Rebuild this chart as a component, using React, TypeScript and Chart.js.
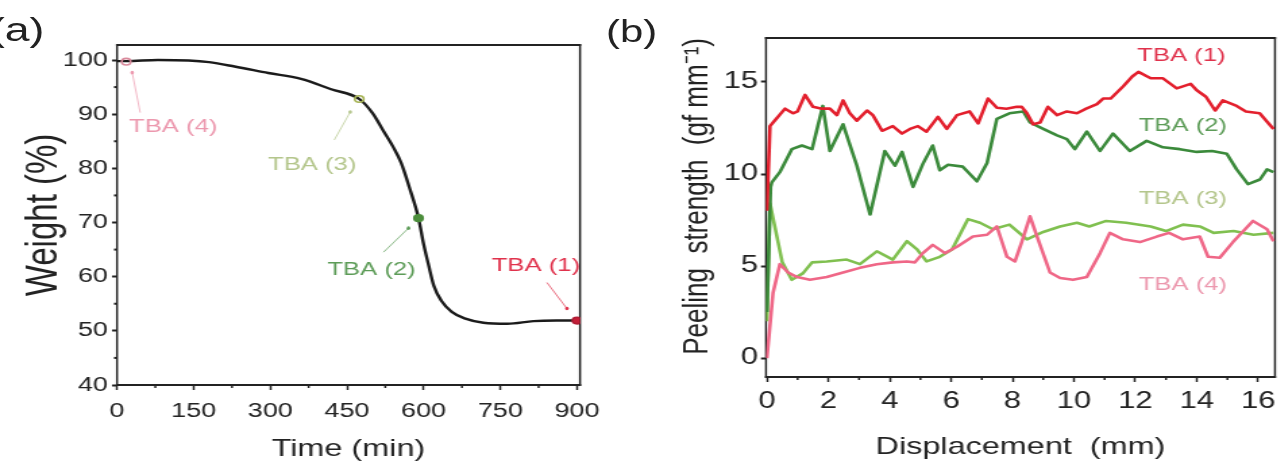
import React, { useEffect, useRef } from 'react';
import { Chart, registerables } from 'chart.js';

Chart.register(...registerables);

// The whole figure is drawn narrow and stretched sideways by SX.
const SX = 1.35;
const PAGE_W = 1285;
const PAGE_H = 469;
const FONT = "'Liberation Sans', Arial, Helvetica, sans-serif";
const INK = '#232323';

// ---------- (a) weight loss against time ----------
const TIME_MIN = [0, 18, 80, 140, 180, 230, 296, 360, 419, 474, 500, 522, 540, 556, 572, 590, 600, 610, 620, 635, 655, 680, 717, 764, 815, 860, 900];
const WEIGHT_PCT = [99.8, 99.8, 100, 99.9, 99.6, 98.8, 97.6, 96.5, 94.6, 92.8, 90.2, 86.8, 84.0, 81.0, 76.5, 70.8, 66.0, 62.0, 58.3, 55.5, 53.5, 52.3, 51.5, 51.3, 51.8, 51.9, 51.9];
const X_TICKS_A = [0, 150, 300, 450, 600, 750, 900];
const X_MINOR_A = [75, 225, 375, 525, 675, 825];
const Y_TICKS_A = [40, 50, 60, 70, 80, 90, 100];
const Y_MINOR_A = [45, 55, 65, 75, 85, 95];

// sampling points on the curve
const SAMPLE_NAMES = ['TBA (1)', 'TBA (2)', 'TBA (3)', 'TBA (4)'];
const SAMPLE_TIME = [900, 590, 474, 18];
const SAMPLE_WEIGHT = [51.9, 70.8, 92.8, 99.7];

// ---------- (b) peel force against displacement ----------
const TBA1: [number, number][] = [
  [0, 8.0], [0.1, 12.6], [0.2, 12.8], [0.59, 13.55], [0.85, 13.3], [1.0, 13.4], [1.24, 14.3], [1.5, 13.65],
  [1.79, 13.55], [2.05, 13.55], [2.28, 13.2], [2.48, 14.0], [2.7, 13.3], [2.93, 12.9], [3.26, 13.45], [3.45, 13.2],
  [3.75, 12.35], [4.1, 12.6], [4.4, 12.2], [4.66, 12.45], [4.92, 12.6], [5.2, 12.3], [5.57, 13.1], [5.86, 12.45],
  [6.19, 13.2], [6.6, 13.4], [6.88, 12.75], [7.2, 14.1], [7.49, 13.6], [7.8, 13.55], [8.14, 13.65], [8.3, 13.65],
  [8.47, 13.3], [8.67, 12.7], [8.9, 12.8], [9.15, 13.65], [9.45, 13.2], [9.77, 13.4], [10.1, 13.3], [10.4, 13.55],
  [10.75, 13.8], [10.95, 14.1], [11.2, 14.1], [11.6, 14.75], [11.9, 15.3], [12.1, 15.55], [12.5, 15.2], [12.9, 15.2],
  [13.35, 14.65], [13.8, 14.9], [14.0, 14.55], [14.3, 14.2], [14.6, 13.45], [14.85, 14.0], [15.3, 13.7], [15.6, 13.4],
  [16.05, 13.3], [16.5, 12.45],
];
const TBA2: [number, number][] = [
  [0, 2.5], [0.12, 9.3], [0.16, 9.55], [0.42, 10.1], [0.81, 11.35], [1.14, 11.55], [1.47, 11.35], [1.82, 13.7],
  [2.05, 11.25], [2.48, 12.7], [2.93, 10.45], [3.36, 7.8], [3.84, 11.25], [4.17, 10.45], [4.4, 11.2], [4.76, 9.3],
  [5.08, 10.55], [5.4, 11.55], [5.63, 10.2], [5.9, 10.5], [6.38, 10.4], [6.84, 9.6], [7.17, 10.6], [7.49, 13.0],
  [7.9, 13.3], [8.35, 13.4], [8.57, 12.8], [9.0, 12.45], [9.45, 12.1], [9.77, 11.9], [10.03, 11.35], [10.42, 12.3],
  [10.85, 11.25], [11.27, 12.2], [11.82, 11.25], [12.37, 11.8], [12.9, 11.45], [13.45, 11.35], [14.0, 11.2],
  [14.5, 11.25], [14.98, 11.1], [15.3, 10.25], [15.67, 9.45], [16.06, 9.7], [16.29, 10.25], [16.5, 10.1],
];
const TBA3: [number, number][] = [
  [0, 2.0], [0.1, 8.4], [0.5, 5.2], [0.81, 4.25], [1.17, 4.6], [1.47, 5.2], [1.95, 5.25], [2.6, 5.35], [3.03, 5.1],
  [3.58, 5.8], [4.1, 5.35], [4.56, 6.35], [4.89, 5.9], [5.2, 5.25], [5.63, 5.5], [6.03, 5.9], [6.55, 7.55],
  [6.94, 7.35], [7.36, 7.0], [7.9, 7.25], [8.47, 6.45], [9.0, 6.85], [9.55, 7.15], [10.1, 7.35], [10.5, 7.15],
  [11.05, 7.45], [11.7, 7.35], [12.5, 7.15], [13.0, 6.9], [13.55, 7.25], [14.1, 7.15], [14.55, 6.8], [15.2, 6.9],
  [15.85, 6.7], [16.5, 6.8],
];
const TBA4: [number, number][] = [
  [0, 0], [0.2, 3.55], [0.42, 5.1], [0.69, 4.65], [0.98, 4.4], [1.4, 4.25], [1.95, 4.4], [2.48, 4.65], [3.03, 4.9],
  [3.58, 5.1], [4.1, 5.2], [4.56, 5.25], [4.82, 5.2], [5.08, 5.7], [5.4, 6.15], [5.8, 5.7], [6.19, 6.05],
  [6.71, 6.6], [7.17, 6.7], [7.49, 7.15], [7.82, 5.5], [8.08, 5.25], [8.3, 6.3], [8.57, 7.7], [8.8, 6.6],
  [9.22, 4.65], [9.55, 4.35], [9.97, 4.25], [10.42, 4.4], [10.85, 5.7], [11.17, 6.8], [11.6, 6.45], [12.15, 6.3],
  [12.7, 6.6], [13.1, 6.8], [13.55, 6.45], [14.1, 6.6], [14.37, 5.5], [14.75, 5.45], [15.18, 6.3], [15.83, 7.45],
  [16.29, 7.0], [16.5, 6.35],
];
const X_TICKS_B = [0, 2, 4, 6, 8, 10, 12, 14, 16];
const X_MINOR_B = [1, 3, 5, 7, 9, 11, 13, 15];
const Y_TICKS_B = [0, 5, 10, 15];
const LABEL_B_X = [13.5, 13.55, 13.55, 13.55];
const LABEL_B_Y = [16.4, 12.6, 8.63, 4.0];

// ---------- colours ----------
const LINE_COLORS = ['#e31f2d', '#3b8a3b', '#80c050', '#ef6787'];
const TAG_COLORS = ['#e0324c', '#5d9c58', '#b4c68c', '#ec98ae'];
const MARK_FILL = ['#c41f38', '#4c8e3c', 'rgba(255,255,255,0)', 'rgba(255,255,255,0)'];
const MARK_EDGE = ['#b01c34', '#4c8e3c', '#a6b354', '#d98a9c'];

// ---------- layout (page pixels) ----------
const SPLIT = 612;
const AREA_A = { left: 117, right: 580, top: 45, bottom: 385 };
const AREA_B = { left: 766, right: 1275, top: 38, bottom: 377 };
const TOTAL_W = Math.round(PAGE_W / SX);
const A_W = Math.round(SPLIT / SX);
const B_W = TOTAL_W - A_W;

// callout offsets from each sampling point, page pixels: dot, end of leader, label centre
const CALLOUTS_A = [
  { dot: [-10, -12], end: [-30, -38], label: [-41, -55] },
  { dot: [-10, 10], end: [-35, 34], label: [-47, 52] },
  { dot: [-9, 13], end: [-25, 41], label: [-47, 66] },
  { dot: [6, 11], end: [14, 51], label: [47, 65] },
];

type Tag = { x: number; y: number; text: string; color: string; dx?: number; dy?: number; dot?: number[]; end?: number[] };

const framePlugin = {
  id: 'frame',
  beforeDatasetsDraw(chart: any, _args: any, opts: any) {
    const { ctx, chartArea: a, scales } = chart;
    const hw = 2;
    const vw = 2 / SX;
    ctx.save();
    ctx.fillStyle = INK;
    ctx.fillRect(a.left - vw / 2, a.top - hw / 2, a.right - a.left + vw, hw);
    ctx.fillRect(a.left - vw / 2, a.bottom - hw / 2, a.right - a.left + vw, hw);
    ctx.fillRect(a.left - vw / 2, a.top - hw / 2, vw, a.bottom - a.top + hw);
    ctx.fillRect(a.right - vw / 2, a.top - hw / 2, vw, a.bottom - a.top + hw);
    for (const v of opts.minorX || []) {
      const x = scales.x.getPixelForValue(v);
      ctx.fillRect(x - vw / 2, a.bottom, vw, 3);
    }
    for (const v of opts.minorY || []) {
      const y = scales.y.getPixelForValue(v);
      ctx.fillRect(a.left - 3 / SX, y - hw / 2, 3 / SX, hw);
    }
    ctx.restore();
  },
};

const tagPlugin = {
  id: 'tags',
  afterDatasetsDraw(chart: any, _args: any, opts: any) {
    const { ctx, scales } = chart;
    ctx.save();
    ctx.font = `${opts.size}px ${FONT}`;
    ctx.textAlign = 'center';
    ctx.textBaseline = 'middle';
    (opts.items as Tag[]).forEach((t) => {
      const px = scales.x.getPixelForValue(t.x);
      const py = scales.y.getPixelForValue(t.y);
      if (t.dot && t.end) {
        ctx.strokeStyle = t.color;
        ctx.globalAlpha = 0.7;
        ctx.lineWidth = 1;
        ctx.beginPath();
        ctx.moveTo(px + t.dot[0] / SX, py + t.dot[1]);
        ctx.lineTo(px + t.end[0] / SX, py + t.end[1]);
        ctx.stroke();
        ctx.globalAlpha = 1;
        ctx.fillStyle = t.color;
        ctx.beginPath();
        ctx.ellipse(px + t.dot[0] / SX, py + t.dot[1], 1.8 / SX, 1.8, 0, 0, Math.PI * 2);
        ctx.fill();
      }
      ctx.fillStyle = t.color;
      ctx.fillText(t.text, px + (t.dx || 0) / SX, py + (t.dy || 0));
    });
    ctx.restore();
  },
};

// x labels sit below the tick marks: the gap comes from the label line height,
// so the tick padding stays 0 and does not eat into the plot width
function xAxis(o: any) {
  return {
    type: 'linear',
    min: o.min,
    max: o.max,
    afterBuildTicks: (s: any) => { s.ticks = o.ticks.map((value: number) => ({ value })); },
    afterFit: (s: any) => { s.height = o.height; },
    border: { display: false },
    grid: { drawOnChartArea: false, drawTicks: true, tickLength: 5, tickColor: INK, tickWidth: 2 / SX },
    ticks: { color: INK, font: { size: o.tickSize, family: FONT, lineHeight: o.tickLine }, padding: 0, maxRotation: 0, autoSkip: false },
    title: { display: true, text: o.title, color: INK, font: { size: o.titleSize, family: FONT }, padding: { top: 0, bottom: o.titlePad } },
  };
}

function yAxis(o: any) {
  return {
    type: 'linear',
    min: o.min,
    max: o.max,
    afterBuildTicks: (s: any) => { s.ticks = o.ticks.map((value: number) => ({ value })); },
    afterFit: (s: any) => { s.width = o.width; },
    border: { display: false },
    grid: { drawOnChartArea: false, drawTicks: true, tickLength: 5 / SX, tickColor: INK, tickWidth: 2 },
    ticks: { color: INK, font: { size: o.tickSize, family: FONT }, padding: o.tickPad, autoSkip: false },
    title: { display: true, text: o.title, color: INK, align: o.align || 'center', font: { size: o.titleSize, family: FONT }, padding: { top: o.titlePad, bottom: 0 } },
  };
}

const pairs = (s: [number, number][]) => s.map(([x, y]) => ({ x, y }));

export default function App() {
  const refA = useRef<HTMLCanvasElement>(null);
  const refB = useRef<HTMLCanvasElement>(null);

  useEffect(() => {
    const chartA = new Chart(refA.current as HTMLCanvasElement, {
      type: 'scatter',
      data: {
        datasets: [
          {
            data: SAMPLE_TIME.map((t, i) => ({ x: t, y: SAMPLE_WEIGHT[i] })),
            pointRadius: 3.3,
            pointBorderWidth: 1.6,
            pointBackgroundColor: MARK_FILL,
            pointBorderColor: MARK_EDGE,
            showLine: false,
          },
          {
            data: TIME_MIN.map((t, i) => ({ x: t, y: WEIGHT_PCT[i] })),
            showLine: true,
            borderColor: '#1b1b1b',
            borderWidth: 2.4,
            pointRadius: 0,
            cubicInterpolationMode: 'monotone',
          },
        ],
      },
      options: {
        animation: false,
        responsive: false,
        events: [],
        layout: { padding: { left: 0, top: AREA_A.top, right: A_W - AREA_A.right / SX, bottom: 0 } },
        scales: {
          x: xAxis({ min: 0, max: 906, ticks: X_TICKS_A, height: PAGE_H - AREA_A.bottom, tickSize: 20, tickLine: '42px', title: 'Time (min)', titleSize: 24, titlePad: 5.6 }),
          y: yAxis({ min: 40, max: 102.77, ticks: Y_TICKS_A, width: AREA_A.left / SX, tickSize: 20, tickPad: 3, title: 'Weight (%)', titleSize: 33, titlePad: 13.5 }),
        },
        plugins: {
          legend: { display: false },
          tooltip: { enabled: false },
          frame: { minorX: X_MINOR_A, minorY: Y_MINOR_A },
          tags: {
            size: 19,
            items: SAMPLE_NAMES.map((text, i) => ({
              x: SAMPLE_TIME[i], y: SAMPLE_WEIGHT[i], text, color: TAG_COLORS[i],
              dx: CALLOUTS_A[i].label[0], dy: CALLOUTS_A[i].label[1], dot: CALLOUTS_A[i].dot, end: CALLOUTS_A[i].end,
            })),
          },
        } as any,
      } as any,
      plugins: [framePlugin, tagPlugin],
    });

    const seriesB = [TBA1, TBA2, TBA4, TBA3];
    const colorIdx = [0, 1, 3, 2];
    const chartB = new Chart(refB.current as HTMLCanvasElement, {
      type: 'scatter',
      data: {
        datasets: seriesB.map((s, k) => ({
          data: pairs(s),
          showLine: true,
          borderColor: LINE_COLORS[colorIdx[k]],
          borderWidth: 2.6,
          borderJoinStyle: 'round',
          pointRadius: 0,
          tension: 0,
        })),
      },
      options: {
        animation: false,
        responsive: false,
        events: [],
        layout: { padding: { left: 0, top: AREA_B.top, right: B_W - (AREA_B.right / SX - A_W), bottom: 0 } },
        scales: {
          x: xAxis({ min: -0.03, max: 16.55, ticks: X_TICKS_B, height: PAGE_H - AREA_B.bottom, tickSize: 23, tickLine: '39px', title: 'Displacement  (mm)', titleSize: 24, titlePad: 7.6 }),
          y: yAxis({ min: -1.03, max: 17.39, ticks: Y_TICKS_B, width: AREA_B.left / SX - A_W, tickSize: 23, tickPad: 2.2, title: 'Peeling  strength  (gf mm⁻¹)', titleSize: 26, titlePad: 48.4, align: 'end' }),
        },
        plugins: {
          legend: { display: false },
          tooltip: { enabled: false },
          frame: { minorX: X_MINOR_B, minorY: [] },
          tags: {
            size: 19,
            items: SAMPLE_NAMES.map((text, i) => ({ x: LABEL_B_X[i], y: LABEL_B_Y[i], text, color: TAG_COLORS[i] })),
          },
        } as any,
      } as any,
      plugins: [framePlugin, tagPlugin],
    });

    return () => {
      chartA.destroy();
      chartB.destroy();
    };
  }, []);

  const tagStyle: React.CSSProperties = {
    position: 'absolute', fontFamily: FONT, color: '#222', whiteSpace: 'nowrap',
  };

  return (
    <div style={{ position: 'absolute', left: 0, top: 0, width: PAGE_W, height: PAGE_H, overflow: 'hidden', background: '#fff' }}>
      <div style={{ position: 'absolute', left: 0, top: 0, width: TOTAL_W, height: PAGE_H, transform: `scaleX(${SX})`, transformOrigin: '0 0' }}>
        <canvas ref={refA} width={A_W} height={PAGE_H} style={{ position: 'absolute', left: 0, top: 0 }} />
        <canvas ref={refB} width={B_W} height={PAGE_H} style={{ position: 'absolute', left: A_W, top: 0 }} />
        <div style={{ ...tagStyle, left: -10 / SX, top: 13, fontSize: 33, lineHeight: '33px' }}>(a)</div>
        <div style={{ ...tagStyle, left: 606 / SX, top: 16, fontSize: 31, lineHeight: '31px' }}>(b)</div>
      </div>
    </div>
  );
}
